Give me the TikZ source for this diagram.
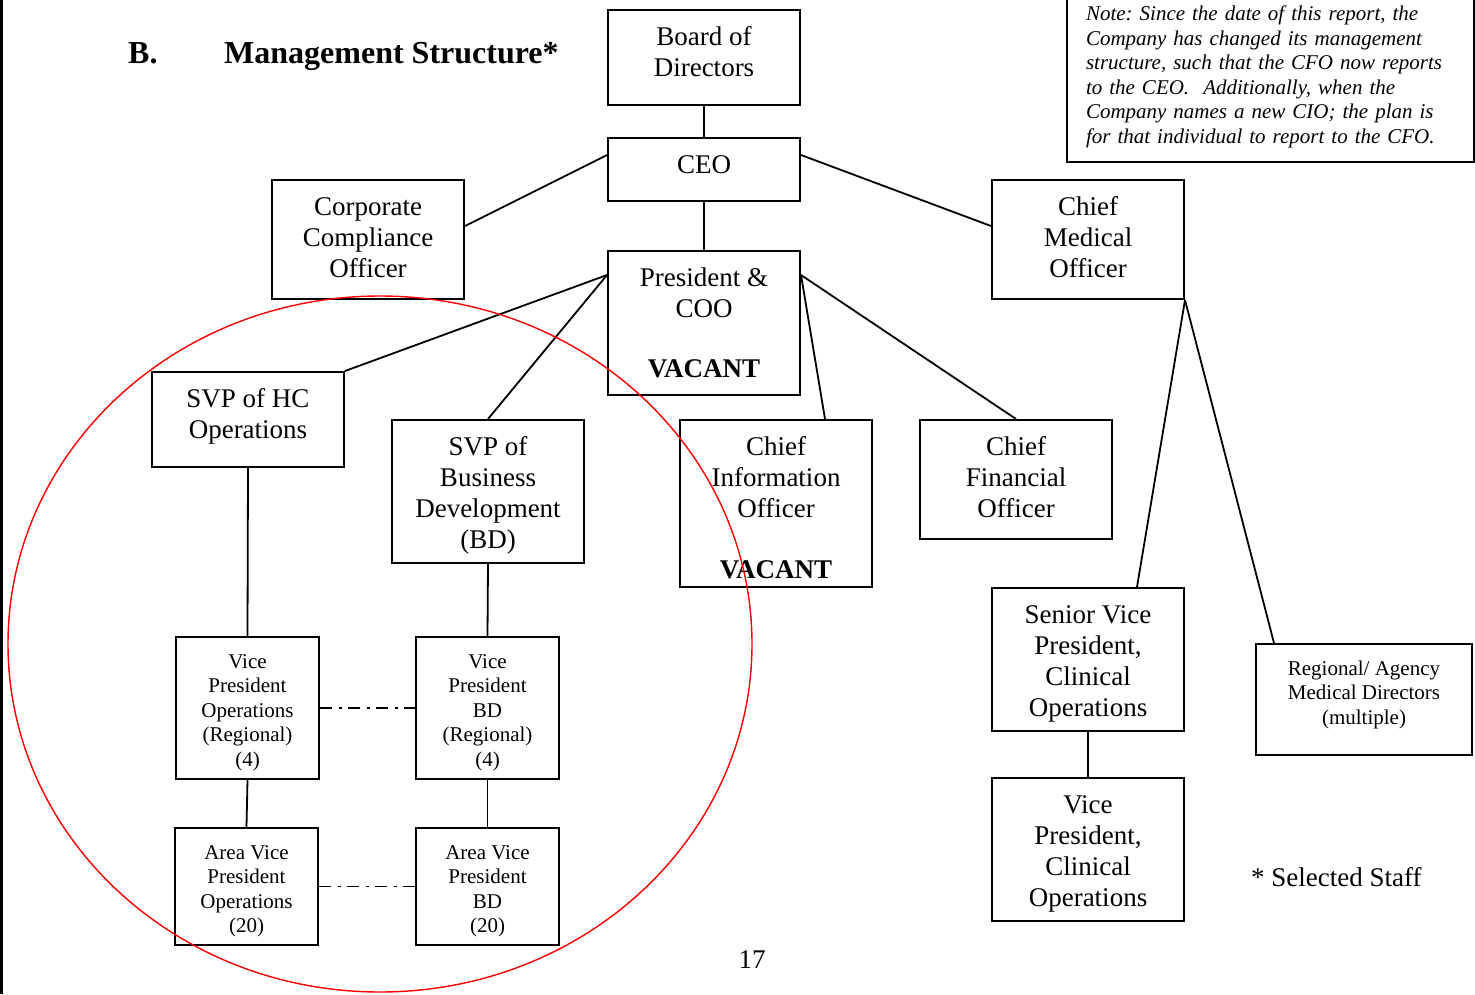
\documentclass[tikz,border=0pt]{standalone}
\usepackage{fontspec}
\setmainfont{Liberation Serif}
\frenchspacing
\tikzset{>=latex}
\tikzstyle{post}=[draw,line width=2pt,align=center,inner sep=0pt,font=\fontsize{27}{31}\selectfont]
\tikzstyle{small post}=[post,font=\fontsize{21}{24.5}\selectfont]
\tikzstyle{link}=[line width=1.8pt]
\tikzstyle{peer}=[link,dash pattern=on 12pt off 6.5pt on 3pt off 6.5pt]
% box of fixed size, text set from the top
\newcommand{\postbox}[3]{\parbox[c][#2][t]{#1}{\centering\vspace*{14pt}\strut#3}}

\begin{document}
\begin{tikzpicture}[x=1pt,y=-1pt]
  \useasboundingbox (0,0) rectangle (1475,994);
  \fill (0,0) rectangle (3,994); % PAGE EDGE

  % HEADINGS
  \node[anchor=base west,inner sep=0pt,font=\fontsize{32}{36}\selectfont\bfseries] (secb) at (128,63) {B.};
  \node[anchor=base west,inner sep=0pt,font=\fontsize{32}{36}\selectfont\bfseries] (title) at (224,63) {Management Structure*};
  \node[draw,line width=1.4pt,align=left,text width=369pt,inner xsep=19pt,inner ysep=0pt,
        minimum height=170pt,font=\fontsize{21}{24.5}\selectfont\itshape] (note) at (1270.5,77)
    {Note: Since the date of this report, the\\
     Company has changed its management\\
     structure, such that the CFO now reports\\
     to the CEO.\ \ Additionally, when the\\
     Company names a new CIO; the plan is\\
     for that individual to report to the CFO.};

  % TOP
  \node[post] (board) at (704,57.5) {\postbox{192pt}{95pt}{Board of\\Directors}};
  \node[post] (ceo) at (704,169.5) {\postbox{192pt}{63pt}{CEO}};
  \node[post] (pres) at (704,323) {\postbox{192pt}{144pt}{President \&\\COO\\[29pt]\textbf{VACANT}}};
  \node[post] (cco) at (368,239.5) {\postbox{192pt}{119pt}{Corporate\\Compliance\\Officer}};
  \node[post] (cmo) at (1088,239.5) {\postbox{192pt}{119pt}{Chief\\Medical\\Officer}};

  % SECOND ROW
  \node[post] (svphc) at (248,419.5) {\postbox{192pt}{95pt}{SVP of HC\\Operations}};
  \node[post] (svpbd) at (488,491.5) {\postbox{192pt}{143pt}{SVP of\\Business\\Development\\(BD)}};
  \node[post] (cio) at (776,503.5) {\postbox{192pt}{167pt}{Chief\\Information\\Officer\\[30pt]\textbf{VACANT}}};
  \node[post] (cfo) at (1016,479.5) {\postbox{192pt}{119pt}{Chief\\Financial\\Officer}};

  % CLINICAL
  \node[post] (svpclin) at (1088,659.5) {\postbox{192pt}{143pt}{Senior Vice\\President,\\Clinical\\Operations}};
  \node[post] (vpclin) at (1088,849.5) {\postbox{192pt}{143pt}{Vice\\President,\\Clinical\\Operations}};
  \node[small post] (regional) at (1364,699.5) {\postbox{216pt}{111pt}{Regional/ Agency\\Medical Directors\\(multiple)}};

  % FIELD
  \node[small post] (vpops) at (247.5,708) {\postbox{143pt}{142pt}{Vice\\President\\Operations\\(Regional)\\(4)}};
  \node[small post] (vpbd) at (487.5,708) {\postbox{143pt}{142pt}{Vice\\President\\BD\\(Regional)\\(4)}};
  \node[small post] (avpops) at (246.5,886.5) {\postbox{143pt}{117pt}{Area Vice\\President\\Operations\\(20)}};
  \node[small post] (avpbd) at (487.5,886.5) {\postbox{143pt}{117pt}{Area Vice\\President\\BD\\(20)}};

  % FOOT
  \node[anchor=base west,inner sep=0pt,font=\fontsize{27}{31}\selectfont] (staff) at (1251,886) {* Selected Staff};
  \node[anchor=base,inner sep=0pt,font=\fontsize{27}{31}\selectfont] (page) at (752,968) {17};

  % LINKS
  \draw[link] (board.south) -- (ceo.north);
  \draw[link] ([yshift=-18pt]ceo.north west) -- ([yshift=-47pt]cco.north east);
  \draw[link] ([yshift=-18pt]ceo.north east) -- ([yshift=-47pt]cmo.north west);
  \draw[link] (ceo.south) -- (pres.north);
  \draw[link] ([yshift=-25pt]pres.north west) -- (svphc.north east);
  \draw[link] ([yshift=-25pt]pres.north west) -- (svpbd.north);
  \draw[link] ([yshift=-25pt]pres.north east) -- ([xshift=-48pt]cio.north east);
  \draw[link] ([yshift=-25pt]pres.north east) -- (cfo.north);
  \draw[link] (cmo.south east) -- ([xshift=-48pt]svpclin.north east);
  \draw[link] (cmo.south east) -- ([xshift=19pt]regional.north west);
  \draw[link] (svpclin.south) -- (vpclin.north);
  \draw[link] (svphc.south) -- (vpops.north);
  \draw[link] (vpops.south) -- (avpops.north);
  \draw[link] (svpbd.south) -- (vpbd.north);
  \draw[link] (vpbd.south) -- (avpbd.north);
  \draw[peer] (vpops.east) -- (vpbd.west);
  \draw[peer] (avpops.east) -- (avpbd.west);

  % SELECTED STAFF
  \draw[red,line width=1.4pt] (380,644) ellipse [x radius=372pt,y radius=348pt];
\end{tikzpicture}
\end{document}
